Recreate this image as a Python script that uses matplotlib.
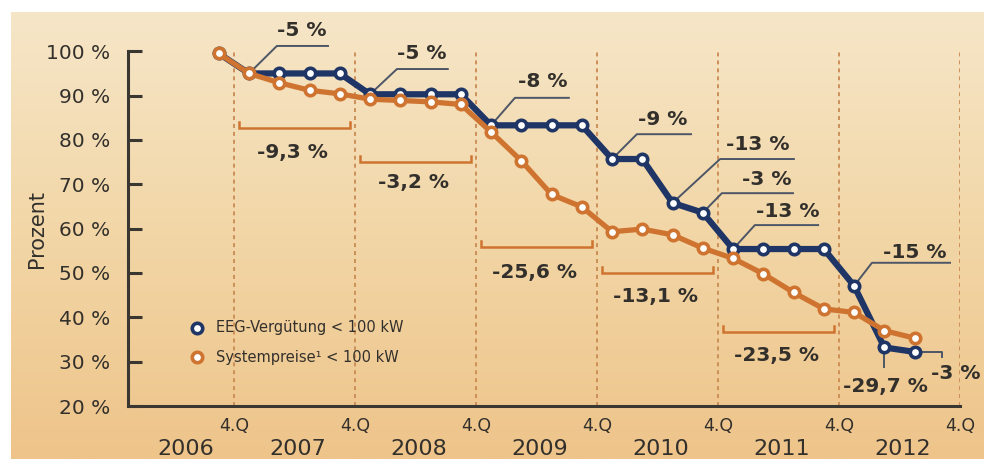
import numpy as np
import matplotlib
matplotlib.use("Agg")
import matplotlib.pyplot as plt
from matplotlib.colors import LinearSegmentedColormap

# ---------------- data ----------------
eeg = [99.5, 95, 95, 95, 95, 90.3, 90.3, 90.3, 90.3, 83.3, 83.3, 83.3, 83.3,
       75.7, 75.7, 65.8, 63.6, 55.4, 55.4, 55.4, 55.4, 47.1, 33.2, 32.2]
system = [99.5, 95, 92.9, 91.2, 90.4, 89.2, 88.9, 88.6, 88.0, 81.8, 75.3, 67.7,
          64.9, 59.3, 59.9, 58.6, 55.6, 53.3, 49.8, 45.6, 41.9, 41.1, 37.0, 35.3]
years = ["2006", "2007", "2008", "2009", "2010", "2011", "2012"]
quarter_label = "4.Q"
y_ticks = [20, 30, 40, 50, 60, 70, 80, 90, 100]
eeg_labels = ["-5 %", "-5 %", "-8 %", "-9 %", "-13 %", "-3 %", "-13 %", "-15 %"]
eeg_label_idx = [1, 5, 9, 13, 15, 16, 17, 21]
sys_labels = ["-9,3 %", "-3,2 %", "-25,6 %", "-13,1 %", "-23,5 %"]
legend_labels = ["EEG-Vergütung < 100 kW", "Systempreise\u00b9 < 100 kW"]

# ---------------- layout (annotation geometry) ----------------
x = np.arange(len(eeg)) - 0.5          # quarter positions
# elbow (x, y), line end x, text (x, y) for each blue label
eeg_geom = [((1.42, 101.2), 3.11, (2.25, 104.6)),
            ((5.39, 96.0), 7.07, (6.21, 99.6)),
            ((9.29, 89.5), 11.07, (10.21, 93.1)),
            ((13.32, 81.3), 15.11, (14.18, 84.7)),
            ((16.07, 75.7), 18.51, (17.32, 78.9)),
            ((16.13, 68.0), 18.48, (17.62, 71.0)),
            ((17.22, 60.8), 19.31, (18.31, 63.8)),
            ((21.09, 52.3), 23.67, (22.51, 54.7))]
bracket_y = [82.7, 75.0, 55.9, 50.0, 36.7]
bracket_text_y = [77.1, 70.5, 50.2, 44.6, 31.5]

BLUE = "#1e3566"
ORANGE = "#cf7430"
TXT = "#33302c"
LEAD = "#4d5666"
FONT = ["DejaVu Sans"]
plt.rcParams["font.family"] = FONT
ANN = 14.5

fig = plt.figure(figsize=(9.84, 4.59), dpi=100)
fig.patch.set_facecolor("white")

# background gradient
bg = fig.add_axes([11 / 984, 0, 1 - 11 / 984, 1 - 12 / 459], zorder=-10)
cmap = LinearSegmentedColormap.from_list("bg", ["#f6e6c8", "#f2d6a6", "#eec48a"])
grad = np.linspace(0, 1, 256).reshape(-1, 1)
bg.imshow(grad, aspect="auto", cmap=cmap, extent=[0, 1, 0, 1], origin="upper")
bg.set_axis_off()

ax = fig.add_axes([128 / 984, 1 - 406 / 459, 832 / 984, (406 - 12) / 459])
ax.set_facecolor("none")
ax.set_xlim(-3.5, 24)
ax.set_ylim(20, 20 + 394 / 4.434)

for s in ["top", "right"]:
    ax.spines[s].set_visible(False)
for s in ["left", "bottom"]:
    ax.spines[s].set_color("#3a3733")
    ax.spines[s].set_linewidth(2.2)
ax.spines["left"].set_bounds(20, 100)

ax.set_yticks(y_ticks)
ax.set_yticklabels([f"{v} %" for v in y_ticks])
ax.tick_params(axis="y", direction="in", length=10, width=2.2, color="#3a3733",
               pad=13, labelsize=14.5, labelcolor=TXT)
ax.set_xticks([])

# dashed verticals and x labels
for k in range(7):
    xv = 4 * k
    ax.plot([xv, xv], [20, 100.3], color="#c98a52", lw=1.3, ls=(0, (2.2, 2.2)), zorder=1)
    ax.text(xv, 15.6, quarter_label, ha="center", va="center", fontsize=12.5,
            color=TXT, clip_on=False)
for k, yr in enumerate(years):
    xc = -1.6 if k == 0 else 4 * k - 2 + 0.1
    ax.text(xc, 10.4, yr, ha="center", va="center", fontsize=16, color=TXT,
            clip_on=False)

ax.text(-6.5, 60, "Prozent", rotation=90, ha="center", va="center",
        fontsize=15, color=TXT, clip_on=False)

# lines
ax.plot(x, eeg, color=BLUE, lw=4.5, marker="o", ms=7.5, mfc="white", mec=BLUE,
        mew=2.6, zorder=4, solid_joinstyle="round")
ax.plot(x, system, color=ORANGE, lw=3.8, marker="o", ms=7.5, mfc="white",
        mec=ORANGE, mew=2.6, zorder=5, solid_joinstyle="round")

# blue leader labels
for lab, i, (elbow, xend, tpos) in zip(eeg_labels, eeg_label_idx, eeg_geom):
    ax.plot([x[i], elbow[0], xend], [eeg[i], elbow[1], elbow[1]], color=LEAD,
            lw=1.4, zorder=3, clip_on=False)
    ax.text(tpos[0], tpos[1], lab, ha="center", va="center", fontsize=ANN,
            fontweight="bold", color=TXT, clip_on=False)

# -29,7 %
i = 22
ax.plot([x[i], x[i]], [eeg[i], 28.8], color=LEAD, lw=1.4, zorder=3)
ax.text(21.52, 24.3, "-29,7 %", ha="center", va="center", fontsize=ANN,
        fontweight="bold", color=TXT)
# -3 % last
i = 23
ax.plot([x[i], 23.4, 23.4], [eeg[i], eeg[i], 31.0], color=LEAD, lw=1.4, zorder=3,
        clip_on=False)
ax.text(23.85, 27.4, "-3 %", ha="center", va="center", fontsize=ANN,
        fontweight="bold", color=TXT, clip_on=False)

# orange brackets
for k, (lab, by, ty) in enumerate(zip(sys_labels, bracket_y, bracket_text_y)):
    x0, x1 = 4 * k + 0.17, 4 * k + 3.85
    ax.plot([x0, x0, x1, x1], [by + 1.4, by, by, by + 1.4], color=ORANGE, lw=1.8,
            zorder=2, solid_joinstyle="miter")
    ax.text(4 * k + 1.95, ty, lab, ha="center", va="center", fontsize=ANN,
            fontweight="bold", color=TXT)

# legend
ax.plot([-1.22], [37.6], "o", ms=7.5, mfc="white", mec=BLUE, mew=2.6, zorder=6)
ax.plot([-1.22], [31.05], "o", ms=7.5, mfc="white", mec=ORANGE, mew=2.6, zorder=6)
ax.text(-0.58, 37.6, legend_labels[0], ha="left", va="center", fontsize=10.5, color=TXT)
ax.text(-0.58, 31.05, legend_labels[1], ha="left", va="center", fontsize=10.5, color=TXT)

fig.savefig("out.png", dpi=100)
